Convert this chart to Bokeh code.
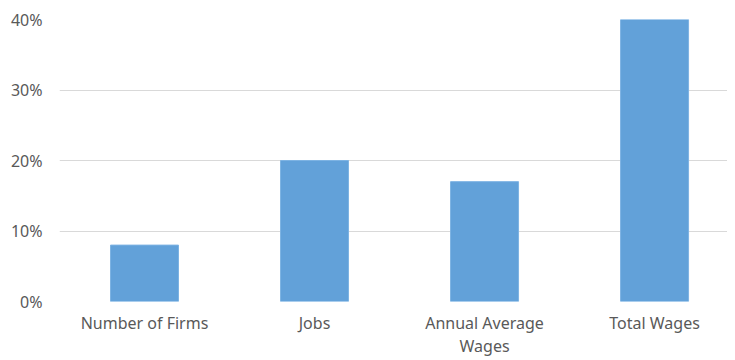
from bokeh.plotting import figure
from bokeh.models import Range1d, FixedTicker, NumeralTickFormatter, ColumnDataSource
from bokeh.embed import file_html
from bokeh.resources import INLINE

categories = ["Number of Firms", "Jobs", "Annual Average\nWages", "Total Wages"]
values = [0.08, 0.20, 0.17, 0.40]
y_ticks = [0.0, 0.1, 0.2, 0.3, 0.4]

xs = list(range(len(categories)))
src = ColumnDataSource(dict(x=xs, top=values))

p = figure(width=727, height=360, output_backend="svg", toolbar_location=None,
           x_range=Range1d(-0.5, 3.429), y_range=Range1d(0, 0.4),
           min_border_left=59, min_border_right=0, min_border_top=19, min_border_bottom=40)
p.outline_line_color = None
p.background_fill_color = "white"
p.border_fill_color = "white"

p.vbar(x="x", top="top", bottom=0, width=0.4, source=src,
       fill_color="#62A1D9", line_color="#7DB3E3", line_width=1)

for ax in (p.xaxis, p.yaxis):
    ax.axis_line_color = None
    ax.major_tick_line_color = None
    ax.minor_tick_line_color = None
    ax.major_tick_out = 0
    ax.major_tick_in = 0
    ax.minor_tick_out = 0
    ax.minor_tick_in = 0
    ax.major_label_text_font = "Noto Sans"
    ax.major_label_text_font_size = "16px"
    ax.major_label_text_color = "#595959"

p.xaxis.ticker = FixedTicker(ticks=xs)
p.xaxis.major_label_overrides = {i: c for i, c in zip(xs, categories)}
p.xaxis.major_label_standoff = 10
p.xaxis.major_label_text_line_height = 1.08

p.yaxis.ticker = FixedTicker(ticks=y_ticks)
p.yaxis.formatter = NumeralTickFormatter(format="0%")
p.yaxis.major_label_standoff = 17

p.xgrid.grid_line_color = None
p.ygrid.grid_line_color = "#D9D9D9"
p.ygrid.grid_line_width = 1

open("out.html", "w").write(file_html(p, INLINE))
